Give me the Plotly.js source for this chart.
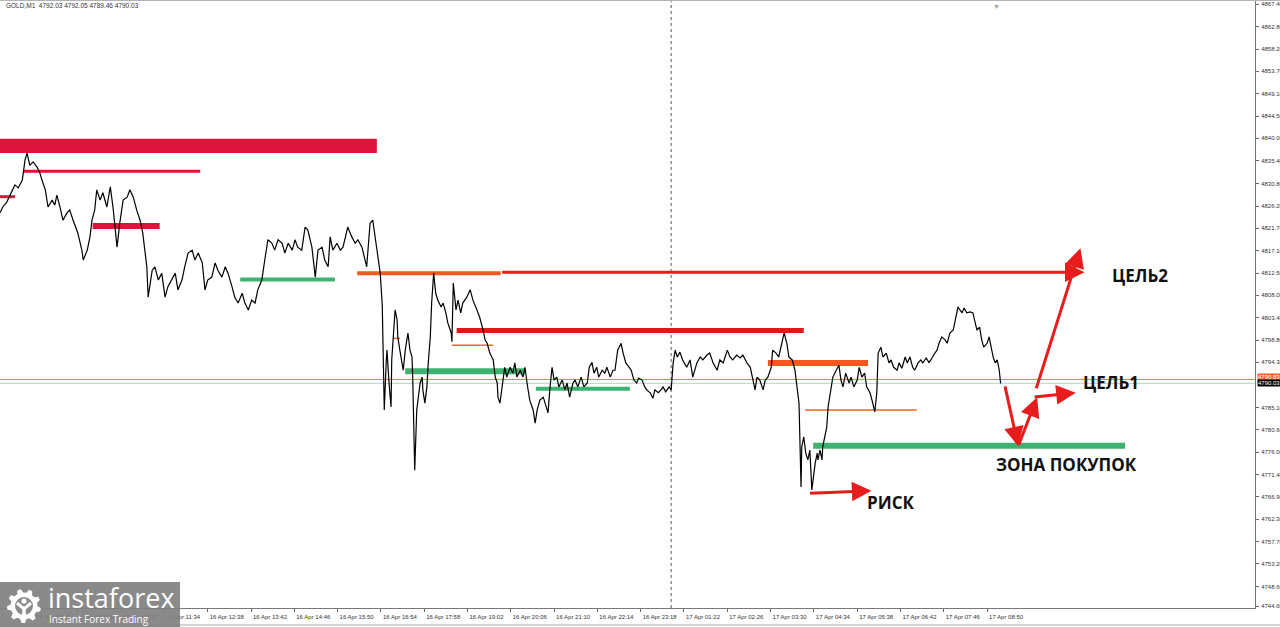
<!DOCTYPE html>
<html><head><meta charset="utf-8">
<script src="https://cdn.plot.ly/plotly-3.0.1.min.js"></script>
<style>html,body{margin:0;padding:0;background:#fff;overflow:hidden}#chart{width:1280px;height:627px;}</style>
</head><body><div id="chart"></div>
<script>
// ---------- DATA ----------
const symbolHeader = "GOLD,M1  4792.03 4792.05 4789.46 4790.03";
const barIndex = [
0,4,10,18,22,27,33,37,40,44,
49,55,59,62,67,71,77,81,84,89,
93,99,103,108,115,121,123,129,133,136,
140,143,148,152,158,163,167,173,177,182,
188,192,197,202,207,211,217,219,225,229,
234,239,244,248,254,259,263,269,273,278,
284,288,293,299,303,307,313,318,322,328,
333,337,343,347,352,358,362,367,372,377,
381,387,392,396,402,406,411,417,421,426,
432,436,440,446,451,455,461,466,470,476,
480,485,488,492,498,503,507,514,520,525,
529,535,542,547,551,557,559,562,565,566,
568,571,572,575,578,579,581,584,587,588,
591,594,596,599,602,603,606,609,610,612,
613,616,618,621,624,625,628,631,633,636,
638,641,644,647,652,655,659,662,667,668,
670,674,677,681,684,690,695,699,705,709,
714,717,720,724,729,732,735,736,739,743,
746,749,754,758,761,764,769,773,776,779,
783,788,791,794,798,803,806,810,813,816,
819,823,826,831,835,838,842,847,850,854,
859,863,868,871,875,878,882,885,890,894,
897,902,906,909,913,918,921,925,930,933,
937,941,944,949,953,956,961,965,968,973,
977,980,984,989,992,995,998,1001,1005,1009,
1015,1020,1024,1030,1035,1039,1045,1049,1054,1060,
1064,1069,1075,1079,1083,1089,1094,1098,1104,1109,
1113,1116,1119,1123,1128,1131,1135,1140,1142,1147,
1151,1154,1159,1163,1166,1171,1175,1178,1181,1184,
1185,1188,1191,1194,1197,1200,1202,1205,1208,1209,
1212,1215,1216,1219,1222,1224,1227,1230,1231,1236,
1240,1243,1246,1250,1255,1258,1262,1267,1270,1274,
1278,1281,1286,1290,1293,1296,1298,1302,1305,1310,
1314,1317,1321,1326,1329,1333,1338,1341,1345,1349,
1352,1357,1361,1364,1369,1373,1376,1380,1385,1388,
1392,1397,1400,1404,1409,1412,1416,1422,1425,1429,
1434,1438,1441,1444,1448,1451,1454,1459,1462,1465,
1468,1471,1474,1477,1479];
const closePrice = [
4824.8,4826.0,4827.0,4829.5,4830.5,4829.9,4831.5,4835.6,4837.0,4834.5,
4835.2,4834.1,4832.9,4831.5,4829.5,4826.0,4827.4,4826.4,4828.4,4825.8,
4823.3,4824.8,4825.4,4823.3,4820.7,4817.2,4815.2,4817.2,4819.9,4823.3,
4825.4,4829.5,4827.4,4828.9,4826.0,4830.1,4826.0,4817.8,4822.7,4827.4,
4828.0,4829.5,4828.0,4825.4,4823.3,4820.7,4813.8,4807.6,4813.1,4813.8,
4811.1,4812.5,4807.6,4809.7,4811.1,4812.5,4809.1,4811.1,4813.8,4816.6,
4817.2,4815.2,4816.6,4814.6,4809.1,4811.1,4811.7,4814.6,4813.1,4811.7,
4813.8,4812.5,4809.7,4807.6,4806.4,4808.4,4806.4,4805.0,4807.0,4806.4,
4809.1,4811.1,4815.8,4819.3,4818.6,4817.2,4819.3,4818.6,4816.6,4818.6,
4817.2,4819.3,4817.8,4817.2,4821.9,4821.3,4817.8,4811.7,4817.2,4817.8,
4815.2,4813.8,4819.9,4817.2,4818.6,4817.2,4817.8,4821.9,4819.9,4818.6,
4819.3,4817.8,4813.8,4822.7,4823.3,4817.8,4815.2,4812.5,4806.0,4798.2,
4784.6,4794.8,4796.8,4790.1,4785.2,4794.8,4799.5,4805.0,4802.9,4799.5,
4796.8,4794.2,4792.7,4796.8,4798.9,4800.3,4796.8,4795.4,4791.3,4781.1,
4772.3,4784.6,4787.2,4790.1,4791.3,4788.7,4786.0,4789.3,4794.2,4799.5,
4806.4,4812.5,4808.4,4807.0,4805.6,4806.4,4804.4,4802.3,4800.3,4798.5,
4810.5,4805.0,4807.0,4804.4,4806.4,4807.6,4809.1,4807.0,4805.0,4803.5,
4800.9,4798.9,4798.2,4796.2,4794.8,4791.3,4790.1,4787.2,4786.0,4790.1,
4793.3,4791.3,4793.3,4792.1,4794.2,4791.3,4792.7,4791.3,4793.3,4790.1,
4786.6,4784.6,4781.9,4784.6,4786.6,4787.2,4786.0,4784.0,4789.3,4793.3,
4790.7,4791.3,4789.3,4790.7,4788.7,4790.1,4787.2,4790.1,4790.7,4789.3,
4791.3,4789.3,4790.1,4793.3,4794.3,4792.1,4793.3,4791.3,4792.7,4792.1,
4793.3,4791.3,4792.7,4792.7,4796.8,4798.2,4796.2,4794.2,4793.3,4792.7,
4790.7,4790.1,4791.1,4790.7,4789.3,4788.7,4788.1,4787.0,4788.7,4788.1,
4788.7,4789.3,4788.3,4789.3,4788.7,4794.2,4796.8,4795.4,4796.4,4794.8,
4793.3,4794.8,4791.3,4794.2,4795.4,4794.8,4795.8,4796.2,4794.2,4792.7,
4794.8,4794.2,4796.8,4795.4,4794.8,4795.8,4795.2,4795.8,4794.2,4793.3,
4790.7,4788.7,4791.3,4790.7,4788.7,4790.7,4791.3,4793.3,4796.8,4796.2,
4795.4,4797.4,4800.3,4798.2,4795.4,4794.8,4792.7,4789.3,4786.0,4768.9,
4777.0,4779.1,4775.8,4774.4,4776.4,4768.3,4770.9,4773.8,4775.8,4774.4,
4776.4,4774.4,4777.0,4779.1,4781.1,4785.2,4788.1,4790.7,4791.3,4792.7,
4793.7,4790.7,4789.3,4792.1,4790.1,4791.3,4789.3,4790.7,4793.3,4791.3,
4792.1,4789.3,4788.1,4786.0,4784.2,4788.1,4796.2,4797.4,4795.4,4796.2,
4794.2,4794.8,4793.3,4792.7,4794.2,4793.1,4795.4,4794.2,4795.4,4793.3,
4792.7,4794.2,4794.8,4794.2,4795.2,4794.3,4794.8,4795.8,4796.8,4798.2,
4799.5,4798.9,4798.2,4800.3,4800.9,4802.9,4805.6,4804.4,4805.4,4804.4,
4804.6,4804.4,4802.9,4800.9,4801.5,4798.9,4797.4,4798.2,4799.5,4797.4,
4795.4,4794.2,4794.8,4792.7,4790.03];

const timeTickBars = [51,115,179,243,307,371,435,499,563,627,691,755,819,883,947,1011,1075,1139,1203,1267,1331,1395,1459];
const timeTickLabels = ["16 Apr 08:22","16 Apr 09:26","16 Apr 10:30","16 Apr 11:34","16 Apr 12:38","16 Apr 13:42","16 Apr 14:46","16 Apr 15:50","16 Apr 16:54","16 Apr 17:58","16 Apr 19:02","16 Apr 20:06","16 Apr 21:10","16 Apr 22:14","16 Apr 23:18","17 Apr 01:22","17 Apr 02:26","17 Apr 03:30","17 Apr 04:34","17 Apr 05:38","17 Apr 06:42","17 Apr 07:46","17 Apr 08:50"];
const priceTicks = [4867.4,4862.8,4858.2,4853.7,4849.1,4844.5,4840.0,4835.4,4830.8,4826.2,4821.7,4817.1,4812.5,4808.0,4803.4,4798.8,4794.3,4785.1,4780.6,4776.0,4771.4,4766.9,4762.3,4757.7,4753.2,4748.6,4744.6];
const priceTickLabels = ["4867.40","4862.80","4858.20","4853.70","4849.10","4844.50","4840.00","4835.40","4830.80","4826.20","4821.70","4817.10","4812.50","4808.00","4803.40","4798.80","4794.30","4785.10","4780.60","4776.00","4771.40","4766.90","4762.30","4757.70","4753.20","4748.60","4744.60"];

const bidPrice = 4790.03;
const askPrice = 4790.83;
const daySeparatorBar = 992;

// resistance zone block
const zoneStartBar = 0, zoneEndBar = 557, zoneLow = 4837.0, zoneHigh = 4839.9;

// horizontal levels
const levelStartBar = [34,0,137,355,528,675,668,581,599,792,1135,1190,1202];
const levelEndBar   = [296,22,236,495,740,1188,729,591,776,931,1283,1355,1663];
const levelPrice    = [4833.3,4828.1,4822.1,4811.2,4812.5,4800.8,4797.8,4799.2,4792.5,4788.9,4794.2,4784.6,4777.3];
const levelKind     = ["crimsonThin","crimsonThin","crimsonMid","green","orange","redThick","orangeThin","orangeThin","greenThick","green","orangeThick","orangeThin","greenThick"];

// scenario arrows: tail -> head
const arrowFromBar   = [740,1485,1505,1527,1531,1195];
const arrowFromPrice = [4812.7,4789.7,4777.2,4787.2,4788.7,4767.6];
const arrowToBar     = [1603,1505,1533,1590,1597,1288];
const arrowToPrice   = [4812.7,4777.2,4787.2,4788.1,4817.6,4768.1];

// text labels
const labelText  = ["ЦЕЛЬ2","ЦЕЛЬ1","ЗОНА ПОКУПОК","РИСК"];
const labelBar   = [1685,1642,1577,1317];
const labelPrice = [4812.1,4790.1,4773.5,4765.8];

// ---------- STYLES ----------
const styles = {
  crimsonThin:{color:'#DC143C',width:3},
  crimsonMid:{color:'#DC143C',width:6},
  green:{color:'#3CB371',width:4},
  greenThick:{color:'#3CB371',width:6},
  orange:{color:'#F25A1F',width:4},
  orangeThick:{color:'#F25A1F',width:6},
  orangeThin:{color:'#F2632A',width:1.5},
  redThick:{color:'#E01818',width:5}
};
const RED = '#E81C1C';
const W = 1255, H = 608;
const px = v => v / W;
const py = v => (H - v) / H;

const shapes = [];
shapes.push({type:'rect',xref:'x',yref:'y',x0:zoneStartBar,x1:zoneEndBar,y0:zoneLow,y1:zoneHigh,fillcolor:'#DC143C',line:{width:0},layer:'below'});
for (let i=0;i<levelPrice.length;i++){
  const s = styles[levelKind[i]];
  shapes.push({type:'line',xref:'x',yref:'y',x0:levelStartBar[i],x1:levelEndBar[i],y0:levelPrice[i],y1:levelPrice[i],line:{color:s.color,width:s.width},layer:'below'});
}
shapes.push({type:'line',xref:'paper',yref:'y',x0:0,x1:1,y0:askPrice,y1:askPrice,line:{color:'#F2703F',width:1},layer:'below'});
shapes.push({type:'line',xref:'paper',yref:'y',x0:0,x1:1,y0:bidPrice,y1:bidPrice,line:{color:'#C8C8C8',width:1},layer:'below'});
shapes.push({type:'line',xref:'x',yref:'paper',x0:daySeparatorBar,x1:daySeparatorBar,y0:0,y1:1,line:{color:'#555',width:1,dash:'dot'},layer:'below'});
// window chrome
shapes.push({type:'line',xref:'paper',yref:'paper',x0:0,x1:1.02,y0:1,y1:1,line:{color:'#B4B4B4',width:2}});
shapes.push({type:'line',xref:'paper',yref:'paper',x0:0,x1:1.02,y0:py(625),y1:py(625),line:{color:'#A8A8A8',width:1}});
// logo box
shapes.push({type:'rect',xref:'paper',yref:'paper',x0:0,x1:px(180),y0:py(627),y1:py(582),fillcolor:'rgba(128,128,128,0.92)',line:{width:0}});
// logo gear (decoration)
(function(){
  const cx=24, cy=606, rO=17, rI=13.5, n=9;
  let d='';
  for(let k=0;k<n;k++){
    const a0=(k/n)*2*Math.PI, step=2*Math.PI/n;
    const pts=[[rI,a0],[rO,a0+step*0.18],[rO,a0+step*0.48],[rI,a0+step*0.66]];
    pts.forEach((p,j)=>{const X=px(cx+p[0]*Math.cos(p[1])),Y=py(cy+p[0]*Math.sin(p[1]));d+=(k===0&&j===0?'M':'L')+X+','+Y+' ';});
  }
  d+='Z';
  shapes.push({type:'path',xref:'paper',yref:'paper',path:d,fillcolor:'#fff',line:{width:0}});
  shapes.push({type:'circle',xref:'paper',yref:'paper',x0:px(cx-9),x1:px(cx+9),y0:py(cy+9),y1:py(cy-9),fillcolor:'#8a8a8a',line:{width:0}});
  shapes.push({type:'circle',xref:'paper',yref:'paper',x0:px(cx-2.6),x1:px(cx+2.6),y0:py(cy-2.4),y1:py(cy-7.6),fillcolor:'#fff',line:{width:0}});
  shapes.push({type:'path',xref:'paper',yref:'paper',path:'M'+px(cx-7)+','+py(cy-3)+' L'+px(cx)+','+py(cy+3)+' L'+px(cx+7)+','+py(cy-3),line:{color:'#fff',width:3}});
  shapes.push({type:'line',xref:'paper',yref:'paper',x0:px(cx),x1:px(cx),y0:py(cy+2),y1:py(cy+14),line:{color:'#fff',width:3.5}});
})();

const annotations = [];
for (let i=0;i<arrowFromBar.length;i++){
  annotations.push({x:arrowToBar[i],y:arrowToPrice[i],ax:arrowFromBar[i],ay:arrowFromPrice[i],xref:'x',yref:'y',axref:'x',ayref:'y',
    text:'',showarrow:true,arrowhead:2,arrowsize:1.3,arrowwidth:3,arrowcolor:RED,standoff:0,startstandoff:0});
}
for (let i=0;i<labelText.length;i++){
  annotations.push({x:labelBar[i],y:labelPrice[i],xref:'x',yref:'y',text:'<b>'+labelText[i]+'</b>',showarrow:false,
    font:{family:'Open Sans, sans-serif',size:17,color:'#111'}});
}
annotations.push({xref:'paper',yref:'paper',x:px(4),y:py(6),xanchor:'left',yanchor:'middle',text:symbolHeader,showarrow:false,
  font:{family:'Liberation Sans, Arial, sans-serif',size:6.5,color:'#333'}});
annotations.push({xref:'paper',yref:'y',x:1,xshift:2,yshift:2,y:askPrice,xanchor:'left',yanchor:'middle',text:askPrice.toFixed(2),showarrow:false,
  bgcolor:'#F2632A',borderpad:0,font:{family:'Liberation Sans, Arial, sans-serif',size:6,color:'#fff'}});
annotations.push({xref:'paper',yref:'y',x:1,xshift:2,y:bidPrice,xanchor:'left',yanchor:'middle',text:bidPrice.toFixed(2),showarrow:false,
  bgcolor:'#000',borderpad:0,font:{family:'Liberation Sans, Arial, sans-serif',size:6,color:'#fff'}});
annotations.push({xref:'paper',yref:'paper',x:px(1002),y:1,yanchor:'top',text:'▼',showarrow:false,font:{size:7,color:'#A0A0A0'}});
annotations.push({xref:'paper',yref:'paper',x:px(46),y:py(597),xanchor:'left',yanchor:'middle',text:'instaforex',showarrow:false,font:{family:'Open Sans, sans-serif',size:27,color:'#fff'}});
annotations.push({xref:'paper',yref:'paper',x:px(47),y:py(619),xanchor:'left',yanchor:'middle',text:'Instant Forex Trading',showarrow:false,font:{family:'Open Sans, sans-serif',size:10,color:'#fff'}});

const trace = {x:barIndex,y:closePrice,type:'scatter',mode:'lines',line:{color:'#000',width:1.2},hoverinfo:'skip'};

const layout = {
  width:1280,height:627,
  margin:{l:0,r:25,t:0,b:19,pad:0},
  paper_bgcolor:'#fff',plot_bgcolor:'#fff',
  showlegend:false,
  xaxis:{range:[0,1855],tickmode:'array',tickvals:timeTickBars,ticktext:timeTickLabels,ticks:'outside',ticklen:3,tickcolor:'#666',
    tickfont:{family:'Liberation Sans, Arial, sans-serif',size:6,color:'#333'},ticklabelshift:19,ticklabelstandoff:0,
    showgrid:false,zeroline:false,showline:true,linecolor:'#777',linewidth:1,fixedrange:true},
  yaxis:{range:[4744.2,4868.22],side:'right',tickmode:'array',tickvals:priceTicks,ticktext:priceTickLabels,ticks:'outside',ticklen:3,tickcolor:'#666',
    tickfont:{family:'Liberation Sans, Arial, sans-serif',size:6,color:'#333'},ticklabelstandoff:1,
    showgrid:false,zeroline:false,showline:true,linecolor:'#777',linewidth:1,fixedrange:true},
  shapes:shapes,
  annotations:annotations
};
Plotly.newPlot('chart',[trace],layout,{displayModeBar:false,staticPlot:true});
</script></body></html>
